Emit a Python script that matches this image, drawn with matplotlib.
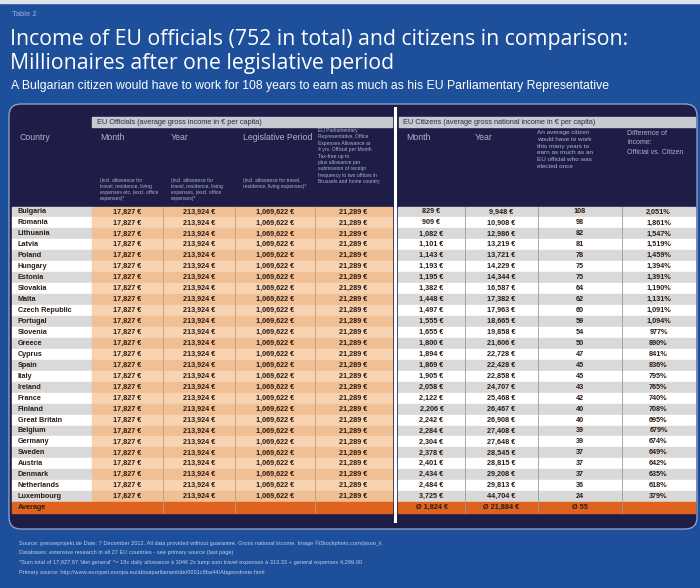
import matplotlib
matplotlib.use("Agg")
import matplotlib.pyplot as plt
from matplotlib.patches import Rectangle, FancyBboxPatch
from matplotlib import font_manager

# ---------------- data ----------------
countries = ["Bulgaria", "Romania", "Lithuania", "Latvia", "Poland", "Hungary", "Estonia",
             "Slovakia", "Malta", "Czech Republic", "Portugal", "Slovenia", "Greece", "Cyprus",
             "Spain", "Italy", "Ireland", "France", "Finland", "Great Britain", "Belgium",
             "Germany", "Sweden", "Austria", "Denmark", "Netherlands", "Luxembourg"]
official_month = 17827
official_year = 213924
official_period = 1069622
official_allowance = 21289
citizen_month = [829, 909, 1082, 1101, 1143, 1193, 1195, 1382, 1448, 1497, 1555, 1655, 1800,
                 1894, 1869, 1905, 2058, 2122, 2206, 2242, 2284, 2304, 2378, 2401, 2434, 2484, 3725]
citizen_year = [9948, 10908, 12986, 13219, 13721, 14229, 14344, 16587, 17382, 17963, 18665,
                19858, 21606, 22728, 22428, 22858, 24707, 25468, 26467, 26908, 27408, 27648,
                28545, 28815, 29208, 29813, 44704]
years_to_work = [108, 98, 82, 81, 78, 75, 75, 64, 62, 60, 59, 54, 50, 47, 45, 45, 43, 42, 40,
                 40, 39, 39, 37, 37, 37, 36, 24]
difference_pct = [2051, 1861, 1547, 1519, 1459, 1394, 1391, 1190, 1131, 1091, 1094, 977, 890,
                  841, 836, 795, 765, 740, 708, 695, 679, 674, 649, 642, 635, 618, 379]
avg_citizen_month = 1824
avg_citizen_year = 21884
avg_years = 55

# ---------------- fonts ----------------
avail = {f.name for f in font_manager.fontManager.ttflist}
narrow = "Liberation Sans Narrow" if "Liberation Sans Narrow" in avail else "Liberation Sans"
FAM = [narrow, "DejaVu Sans"]
TFAM = ["Open Sans", "DejaVu Sans"]

def eur(v):
    return f"{v:,} €"

# ---------------- figure ----------------
fig = plt.figure(figsize=(7, 5.88), dpi=100)
fig.patch.set_facecolor("#1d4f9b")
ax = fig.add_axes([0, 0, 1, 1])
ax.set_xlim(0, 700)
ax.set_ylim(588, 0)
ax.axis("off")

BLUE = "#1d4f9b"
NAVY = "#1e1d47"
ax.add_patch(Rectangle((0, 0), 700, 588, color=BLUE, zorder=0))
ax.add_patch(Rectangle((0, 0), 700, 3, color="#dfe3ec", zorder=0))

# titles
ax.text(12, 15, "Table 2", color="#9fb2d8", fontsize=5.5, family=FAM, va="center")
ax.text(10, 39, "Income of EU officials (752 in total) and citizens in comparison:",
        color="white", fontsize=15.3, family=TFAM, va="center")
ax.text(10, 64, "Millionaires after one legislative period",
        color="white", fontsize=15.3, family=TFAM, va="center")
ax.text(11, 86, "A Bulgarian citizen would have to work for 108 years to earn as much as his EU Parliamentary Representative",
        color="white", fontsize=8.8, family=FAM, va="center")

# panel
ax.add_patch(FancyBboxPatch((9, 104), 688, 425, boxstyle="round,pad=0,rounding_size=12",
                            facecolor=NAVY, edgecolor="#9aa6cf", lw=0.9, zorder=1))

# geometry
row_top = 206.5
row_h = 10.95
n = len(countries)
x_country = (12, 92)
off_cols = [(92, 163), (163, 235), (235, 315), (315, 392)]
cit_cols = [(398, 465), (465, 538), (538, 622), (622, 695)]

# section header bars
ax.add_patch(Rectangle((92, 117), 300, 10, color="#c9c9d2", zorder=2))
ax.add_patch(Rectangle((399, 117), 296, 10, color="#c9c9d2", zorder=2))
ax.text(97, 122, "EU Officials (average gross income in € per capita)", fontsize=5.3,
        family=FAM, color="#2a2a55", va="center", zorder=3)
ax.text(403, 122, "EU Citizens (average gross national income in € per capita)", fontsize=5.3,
        family=FAM, color="#2a2a55", va="center", zorder=3)

HC = "#aeb3cc"
ax.text(20, 137, "Country", fontsize=6.3, family=FAM, color=HC, va="center", zorder=3)
off_heads = ["Month", "Year", "Legislative Period"]
off_notes = ["(incl. allowance for\ntravel, residence, living\nexpenses etc. (excl. office\nexpenses)*",
             "(incl. allowance for\ntravel, residence, living\nexpenses, (excl. office\nexpenses)*",
             "(incl. allowance for travel,\nresidence, living expenses)*"]
for (x0, x1), h, nt in zip(off_cols[:3], off_heads, off_notes):
    ax.text(x0 + 8, 137, h, fontsize=6.3, family=FAM, color=HC, va="center", zorder=3)
    ax.text(x0 + 8, 178, nt, fontsize=3.6, family=FAM, color=HC, va="top", zorder=3,
            linespacing=1.25)
ax.text(318, 128, "EU Parliamentary\nRepresentative, Office\nExpenses Allowance at\n4 yrs. Official per Month\nTax-free up to\nplus allowance per\nsubmission of receipt\nfrequency to two offices in\nBrussels and home country",
        fontsize=3.6, family=FAM, color=HC, va="top", zorder=3, linespacing=1.35)

ax.text(406, 137, "Month", fontsize=6.3, family=FAM, color=HC, va="center", zorder=3)
ax.text(475, 137, "Year", fontsize=6.3, family=FAM, color=HC, va="center", zorder=3)
ax.text(537, 130, "An average citizen\nwould have to work\nthis many years to\nearn as much as an\nEU official who was\nelected once",
        fontsize=4.6, family=FAM, color=HC, va="top", zorder=3, linespacing=1.45)
ax.text(627, 130, "Difference of\nincome:\nOfficial vs. Citizen",
        fontsize=5.0, family=FAM, color=HC, va="top", zorder=3, linespacing=1.45)

# rows
TXT = "#2b1c12"
for i, c in enumerate(countries):
    y = row_top + i * row_h
    yc = y + row_h / 2
    even = (i % 2 == 0)
    ax.add_patch(Rectangle((x_country[0], y), x_country[1] - x_country[0], row_h,
                           color="#d9d9d9" if even else "white", zorder=2))
    ax.add_patch(Rectangle((off_cols[0][0], y), off_cols[-1][1] - off_cols[0][0], row_h,
                           color="#f0bf94" if even else "#f7d3b2", zorder=2))
    ax.add_patch(Rectangle((cit_cols[0][0], y), cit_cols[-1][1] - cit_cols[0][0], row_h,
                           color="#d9d9d9" if even else "white", zorder=2))
    ax.text(18, yc, c, fontsize=5.2, family=FAM, weight="bold", color=TXT, va="center", zorder=3)
    vals = [eur(official_month), eur(official_year), eur(official_period), eur(official_allowance)]
    for (x0, x1), v in zip(off_cols, vals):
        ax.text((x0 + x1) / 2, yc, v, fontsize=5.2, family=FAM, weight="bold", color=TXT,
                ha="center", va="center", zorder=3)
    cvals = [eur(citizen_month[i]), eur(citizen_year[i]), f"{years_to_work[i]}",
             f"{difference_pct[i]:,}%"]
    for (x0, x1), v in zip(cit_cols, cvals):
        ax.text((x0 + x1) / 2, yc, v, fontsize=5.2, family=FAM, weight="bold", color=TXT,
                ha="center", va="center", zorder=3)

# average row
ya = row_top + n * row_h
ax.add_patch(Rectangle((12, ya), 380, row_h, color="#e0621f", zorder=2))
ax.add_patch(Rectangle((398, ya), 297, row_h, color="#e0621f", zorder=2))
ax.text(18, ya + row_h / 2, "Average", fontsize=5.2, family=FAM, weight="bold", color=TXT,
        va="center", zorder=3)
avals = [f"Ø {avg_citizen_month:,} €", f"Ø {avg_citizen_year:,} €", f"Ø {avg_years}"]
for (x0, x1), v in zip(cit_cols[:3], avals):
    ax.text((x0 + x1) / 2, ya + row_h / 2, v, fontsize=5.2, family=FAM, weight="bold",
            color=TXT, ha="center", va="center", zorder=3)

# column lines
y_end = ya + row_h
for x in [163, 235, 315]:
    ax.plot([x, x], [row_top, y_end], color="#c49a78", lw=0.6, zorder=2.5)
for x in [465, 538, 622]:
    ax.plot([x, x], [row_top, y_end], color="#9a9a9a", lw=0.6, zorder=2.5)
ax.plot([395, 395], [108, 521], color="white", lw=2.2, zorder=3)

# footer
foot = ["Source: presseprojekt.de Date: 7 December 2012. All data provided without guarantee. Gross national income. Image ©iStockphoto.com/jason_k",
        "Databases: extensive research in all 27 EU countries - see primary source (last page)",
        "*Sum total of 17,827.87 'diet general' *= 18x daily allowance à 304€ 2x lump sum travel expenses à 313.33 + general expenses 4,299.00",
        "Primary source: http://www.europarl.europa.eu/aboutparliament/de/0001c8ba44/Abgeordnete.html"]
for k, t in enumerate(foot):
    ax.text(19, 543 + k * 9.8, t, fontsize=4.1, family=FAM, color="#c3cce4", va="center")

fig.savefig("out.png", dpi=100, facecolor=fig.get_facecolor())
